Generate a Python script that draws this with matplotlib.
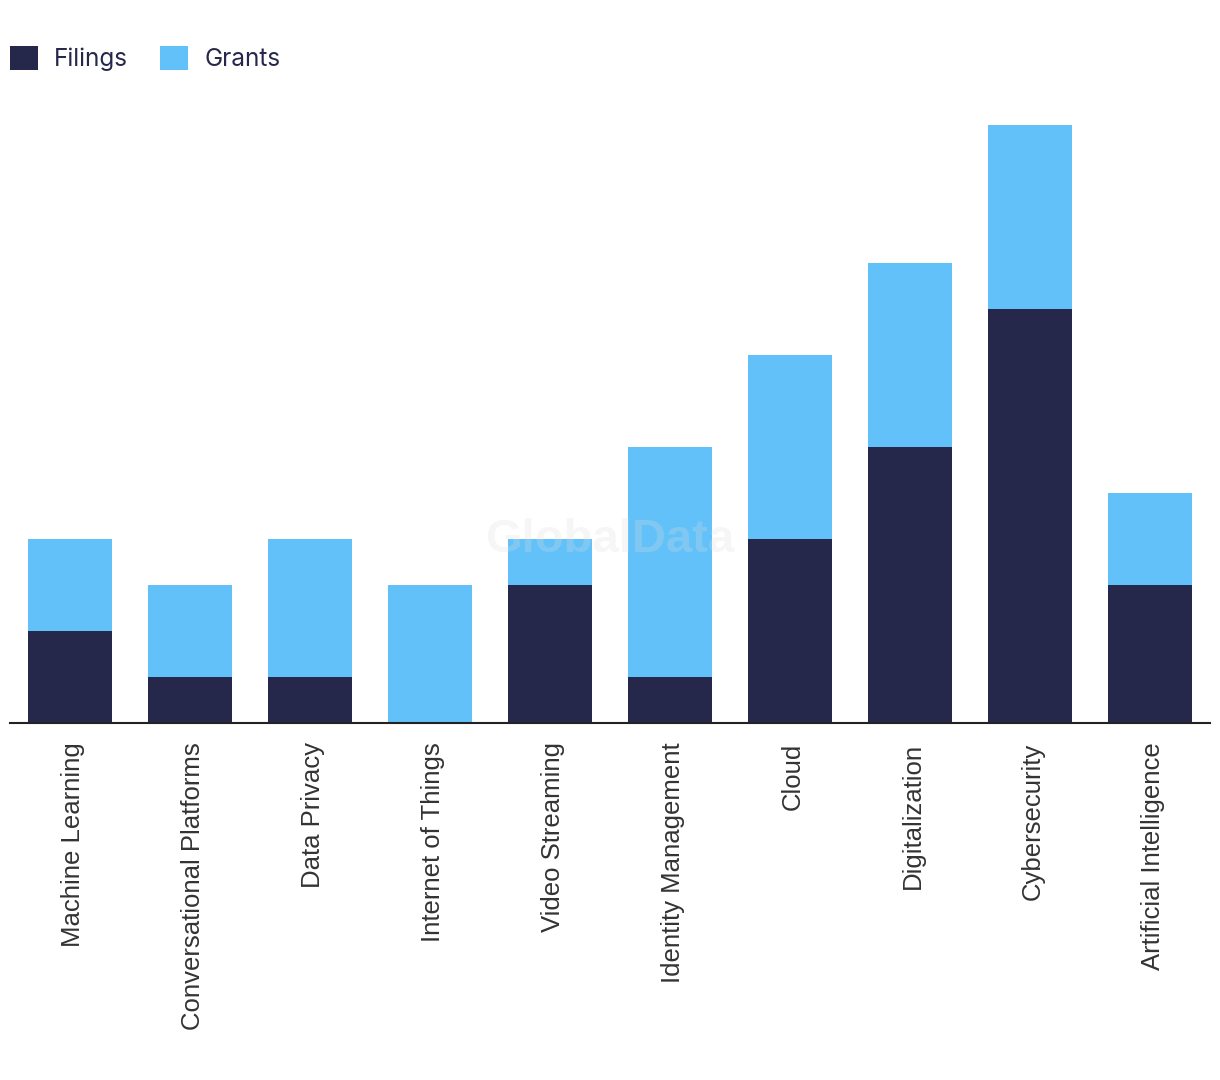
import matplotlib
matplotlib.use("Agg")
import matplotlib.pyplot as plt
import matplotlib.transforms as mtrans
from matplotlib.patches import Patch

# data
categories = ["Machine Learning", "Conversational Platforms", "Data Privacy",
              "Internet of Things", "Video Streaming", "Identity Management",
              "Cloud", "Digitalization", "Cybersecurity", "Artificial Intelligence"]
filings = [2, 1, 1, 0, 3, 1, 4, 6, 9, 3]
grants = [2, 2, 3, 3, 1, 5, 4, 4, 4, 2]

dark = "#26284b"
light = "#62c1f9"

fig = plt.figure(figsize=(12.2, 10.8), dpi=100)
ax = fig.add_axes([10/1220, (1080-723)/1080, 1200/1220, (723-100)/1080])

x = list(range(len(categories)))
ax.bar(x, filings, width=0.7, color=dark, zorder=2)
ax.bar(x, grants, width=0.7, bottom=filings, color=light, zorder=2)

ax.set_xlim(-0.5, len(categories) - 0.5)
ax.set_ylim(0, (723-100)/46)
ax.set_xticks(x)
ax.set_xticklabels(categories, rotation=90, fontsize=18.5, color="#333333",
                   family="Liberation Sans", va="top")
ax.tick_params(axis="x", length=0, pad=14)
ax.set_yticks([])
for s in ["top", "right", "left"]:
    ax.spines[s].set_visible(False)
ax.spines["bottom"].set_color("#222222")
ax.spines["bottom"].set_linewidth(1.5)
# shift labels slightly right like the reference
offset = mtrans.ScaledTranslation(3/100, 0, fig.dpi_scale_trans)
for lbl in ax.get_xticklabels():
    lbl.set_transform(lbl.get_transform() + offset)

# watermark
fig.text(610/1220, 1 - 540/1080, "GlobalData", fontsize=34, fontweight="bold",
         family="Liberation Sans", color="#dddddd", alpha=0.25,
         ha="center", va="center", zorder=5)

# legend
handles = [Patch(facecolor=dark, label="Filings"), Patch(facecolor=light, label="Grants")]
fig.legend(handles=handles, loc="upper left", bbox_to_anchor=(0.0, 1 - 36/1080),
           ncol=2, frameon=False, handlelength=1.15, handleheight=1.15,
           handletextpad=0.68, columnspacing=1.3, borderaxespad=0,
           prop={"family": "Inter", "size": 17.5}, labelcolor="#26284b")

fig.savefig("out.png", dpi=100)
